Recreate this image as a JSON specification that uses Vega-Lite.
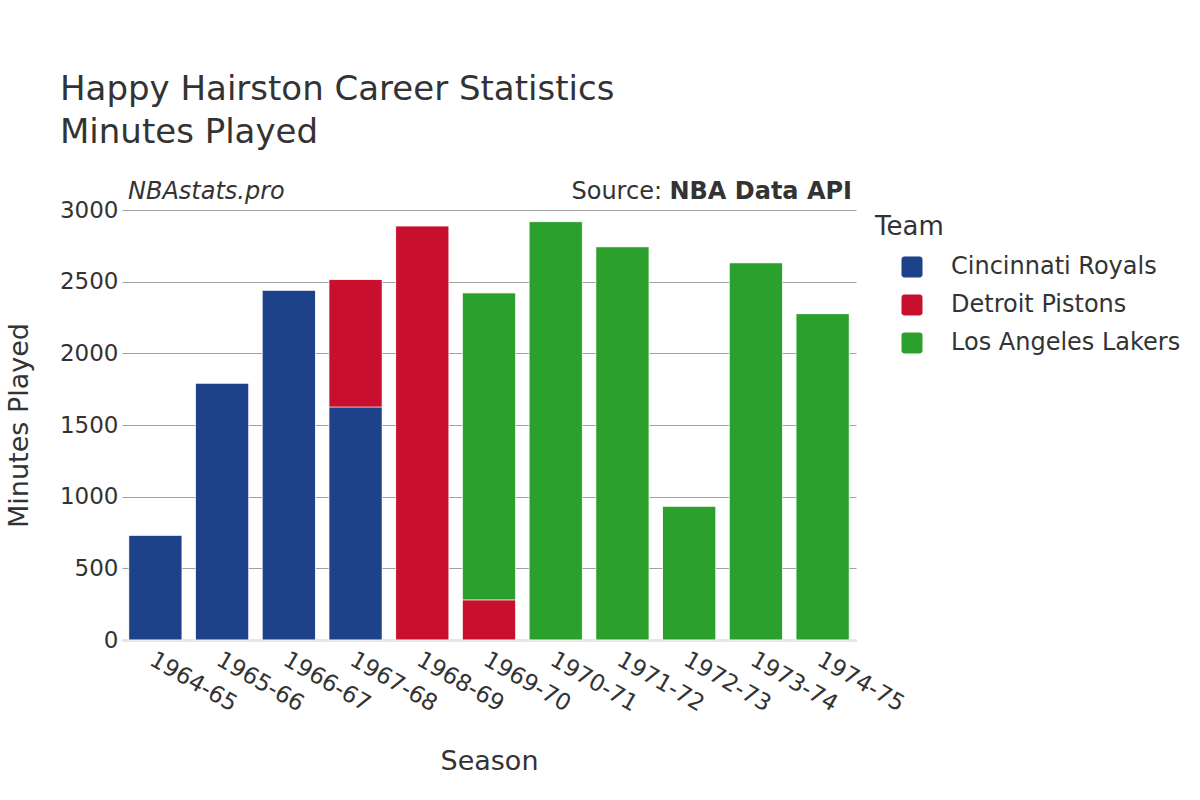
{
  "$schema": "https://vega.github.io/schema/vega-lite/v6.json",
  "autosize": "none",
  "width": 734,
  "height": 430,
  "padding": {"left": 122, "top": 210, "right": 344, "bottom": 160},
  "background": "white",
  "config": {
    "font": "DejaVu Sans",
    "view": {"stroke": null},
    "text": {"font": "DejaVu Sans"}
  },
  "title": {
    "text": ["Happy Hairston Career Statistics", "Minutes Played"],
    "anchor": "start",
    "frame": "group",
    "dx": -62,
    "offset": 30,
    "fontSize": 34,
    "fontWeight": "normal",
    "color": "#333333",
    "lineHeight": 43,
    "font": "DejaVu Sans"
  },
  "data": {
    "values": [
      {"Season": "1964-65", "Team": "Cincinnati Royals", "Minutes": 730},
      {"Season": "1965-66", "Team": "Cincinnati Royals", "Minutes": 1792},
      {"Season": "1966-67", "Team": "Cincinnati Royals", "Minutes": 2440},
      {"Season": "1967-68", "Team": "Cincinnati Royals", "Minutes": 1626},
      {"Season": "1967-68", "Team": "Detroit Pistons", "Minutes": 889},
      {"Season": "1968-69", "Team": "Detroit Pistons", "Minutes": 2889},
      {"Season": "1969-70", "Team": "Detroit Pistons", "Minutes": 280},
      {"Season": "1969-70", "Team": "Los Angeles Lakers", "Minutes": 2142},
      {"Season": "1970-71", "Team": "Los Angeles Lakers", "Minutes": 2919},
      {"Season": "1971-72", "Team": "Los Angeles Lakers", "Minutes": 2744},
      {"Season": "1972-73", "Team": "Los Angeles Lakers", "Minutes": 933},
      {"Season": "1973-74", "Team": "Los Angeles Lakers", "Minutes": 2632},
      {"Season": "1974-75", "Team": "Los Angeles Lakers", "Minutes": 2277}
    ]
  },
  "layer": [
    {
      "transform": [
        {"window": [{"op": "row_number", "as": "topRank"}], "groupby": ["Season"], "sort": [{"field": "Team", "order": "descending"}]}
      ],
      "mark": {
        "type": "bar",
        "cornerRadiusTopLeft": {"expr": "datum.topRank == 1 ? 4 : 0"},
        "cornerRadiusTopRight": {"expr": "datum.topRank == 1 ? 4 : 0"},
        "stroke": "white",
        "strokeWidth": 0.8,
        "strokeOpacity": 0.7
      },
      "encoding": {
        "x": {
          "field": "Season",
          "type": "nominal",
          "sort": null,
          "scale": {"paddingInner": 0.2, "paddingOuter": 0.1},
          "axis": {
            "title": "Season",
            "titleFontSize": 27,
            "titleFontWeight": "normal",
            "titleColor": "#333333",
            "titlePadding": 33,
            "labelAngle": 30,
            "labelAlign": "left",
            "labelBaseline": "top",
            "labelFontSize": 23,
            "labelColor": "#333333",
            "labelPadding": 8,
            "labelOffset": 2,
            "ticks": false,
            "domain": true,
            "domainColor": "#e6e6e6",
            "domainWidth": 3
          }
        },
        "y": {
          "field": "Minutes",
          "type": "quantitative",
          "aggregate": "sum",
          "stack": "zero",
          "scale": {"domain": [0, 3000], "nice": false},
          "axis": {
            "title": "Minutes Played",
            "titleFontSize": 27,
            "titleFontWeight": "normal",
            "titleColor": "#333333",
            "titlePadding": 26,
            "labelFontSize": 23,
            "labelColor": "#333333",
            "labelPadding": 4,
            "format": "d",
            "values": [0, 500, 1000, 1500, 2000, 2500, 3000],
            "ticks": false,
            "domain": false,
            "grid": true,
            "gridColor": "#a0a0a0",
            "gridWidth": 1
          }
        },
        "color": {
          "field": "Team",
          "type": "nominal",
          "scale": {
            "domain": ["Cincinnati Royals", "Detroit Pistons", "Los Angeles Lakers"],
            "range": ["#1D428A", "#C8102E", "#2CA02C"]
          },
          "legend": {
            "title": "Team",
            "orient": "none",
            "legendX": 753,
            "legendY": 4,
            "titleFontSize": 26,
            "titleFontWeight": "normal",
            "titleColor": "#333333",
            "titlePadding": 15,
            "labelFontSize": 24,
            "labelColor": "#333333",
            "labelLimit": 0,
            "labelOffset": 27,
            "symbolOffset": 25,
            "symbolType": "M-0.7,-1H0.7Q1,-1 1,-0.7V0.7Q1,1 0.7,1H-0.7Q-1,1 -1,0.7V-0.7Q-1,-1 -0.7,-1Z",
            "symbolSize": 441,
            "symbolStrokeWidth": 0,
            "symbolOpacity": 1,
            "rowPadding": 14
          }
        },
        "order": {"field": "Team", "sort": "ascending"}
      }
    },
    {
      "data": {"values": [{"label": "NBAstats.pro"}]},
      "mark": {"type": "text", "align": "left", "baseline": "alphabetic", "dy": -11, "fontSize": 24, "fontStyle": "italic", "color": "#333333"},
      "encoding": {
        "x": {"value": 6},
        "y": {"datum": 3000, "type": "quantitative"},
        "text": {"field": "label"}
      }
    },
    {
      "data": {"values": [{"label": "NBA Data API"}]},
      "mark": {"type": "text", "align": "right", "baseline": "alphabetic", "dy": -11, "fontSize": 24, "fontWeight": "bold", "color": "#333333"},
      "encoding": {
        "x": {"value": 730},
        "y": {"datum": 3000, "type": "quantitative"},
        "text": {"field": "label"}
      }
    },
    {
      "data": {"values": [{"label": "Source:"}]},
      "mark": {"type": "text", "align": "right", "baseline": "alphabetic", "dy": -11, "dx": -190, "fontSize": 24, "color": "#333333"},
      "encoding": {
        "x": {"value": 730},
        "y": {"datum": 3000, "type": "quantitative"},
        "text": {"field": "label"}
      }
    }
  ]
}
